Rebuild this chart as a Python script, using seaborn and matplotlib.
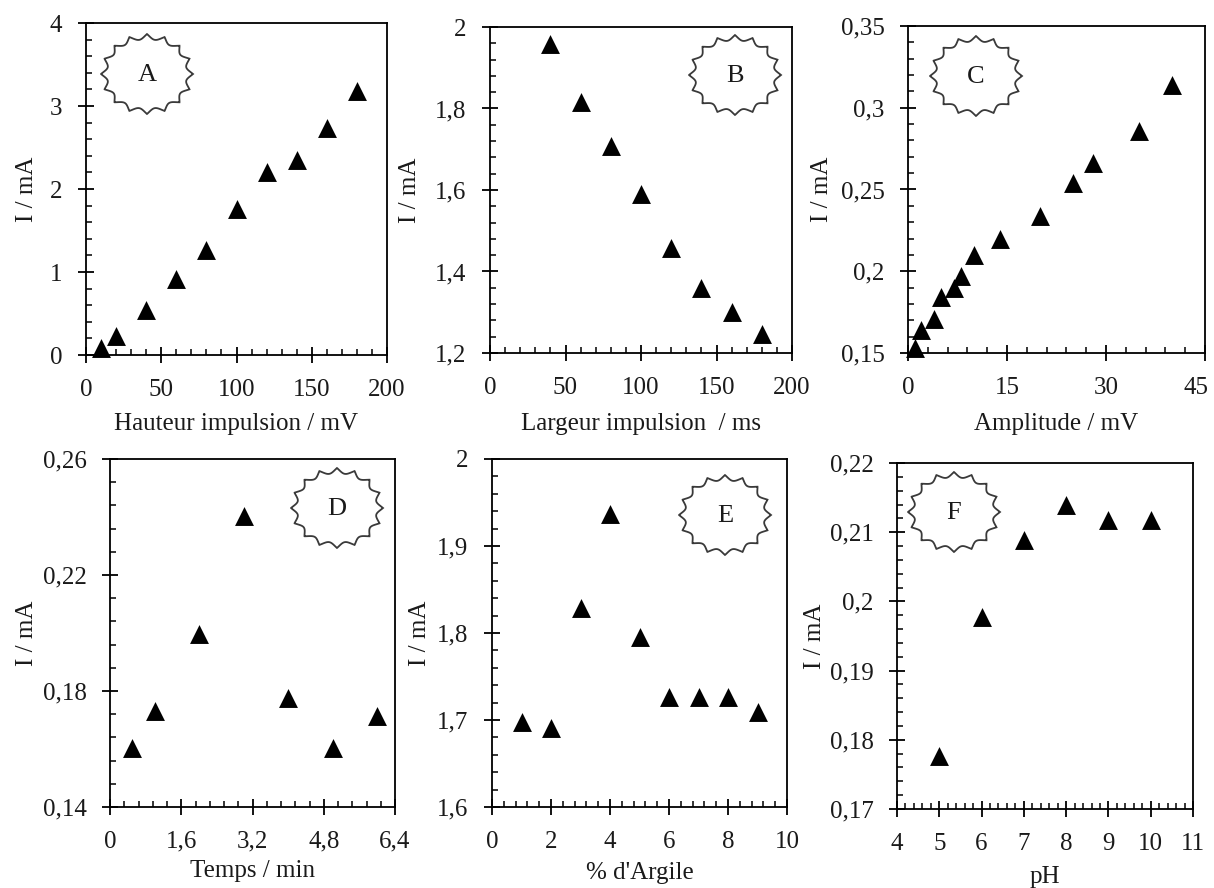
import numpy as np
import pandas as pd
import matplotlib
matplotlib.use("Agg")
import matplotlib.pyplot as plt
from matplotlib.patches import Polygon
from matplotlib.ticker import FixedLocator, FuncFormatter
from matplotlib.transforms import ScaledTranslation
import seaborn as sns

# ---------------- data ----------------
a_x = [10, 20, 40, 60, 80, 100, 120, 140, 160, 180]
a_y = [0.08, 0.23, 0.54, 0.92, 1.27, 1.76, 2.20, 2.35, 2.73, 3.18]

b_x = [40, 60, 80, 100, 120, 140, 160, 180]
b_y = [1.959, 1.816, 1.708, 1.591, 1.458, 1.360, 1.301, 1.247]

c_x = [1, 2, 4, 5, 7, 8, 10, 14, 20, 25, 28, 35, 40]
c_y = [0.153, 0.164, 0.171, 0.184, 0.190, 0.197, 0.210, 0.220, 0.234, 0.254, 0.266, 0.286, 0.314]

d_x = [0.5, 1, 2, 3, 4, 5, 6]
d_y = [0.1603, 0.173, 0.1998, 0.2404, 0.1776, 0.1603, 0.1715]

e_x = [1, 2, 3, 4, 5, 6, 7, 8, 9]
e_y = [1.698, 1.691, 1.829, 1.937, 1.795, 1.726, 1.726, 1.726, 1.709]

f_x = [5, 6, 7, 8, 9, 10]
f_y = [0.1777, 0.1977, 0.2089, 0.2139, 0.2117, 0.2117]

x_labels = ["Hauteur impulsion / mV", "Largeur impulsion  / ms", "Amplitude / mV",
            "Temps / min", "% d'Argile", "pH"]
y_label = "I / mA"
letters = ["A", "B", "C", "D", "E", "F"]

# ---------------- style ----------------
sns.set_theme(style="ticks")
plt.rcParams["font.family"] = ["Liberation Serif", "DejaVu Serif"]
FS = 18
plt.rcParams.update({
    "font.size": FS,
    "axes.edgecolor": "black",
    "axes.linewidth": 1.3,
    "xtick.color": "black",
    "ytick.color": "black",
    "xtick.labelcolor": "#1a1a1a",
    "ytick.labelcolor": "#1a1a1a",
})

W, H = 1214, 888
fig = plt.figure(figsize=(W / 100, H / 100), dpi=100)
fig.patch.set_facecolor("white")

# panel boxes in pixels: left, top, right, bottom
boxes = [(86, 23, 387, 355), (490, 27, 792, 353), (908, 26, 1205, 353),
         (110, 459, 395, 807), (492, 459, 787, 807), (897, 463, 1193, 809)]

specs = [
    dict(x=a_x, y=a_y, xlim=(0, 200), xmaj=50, xmin=10, ylim=(0, 4), ymaj=1, ymin=0.2, xdec=0, ydec=0),
    dict(x=b_x, y=b_y, xlim=(0, 200), xmaj=50, xmin=10, ylim=(1.2, 2), ymaj=0.2, ymin=0.04, xdec=0, ydec=1),
    dict(x=c_x, y=c_y, xlim=(0, 45), xmaj=15, xmin=3, ylim=(0.15, 0.35), ymaj=0.05, ymin=0.01, xdec=0, ydec=2),
    dict(x=d_x, y=d_y, xlim=(0, 6.4), xmaj=1.6, xmin=0.32, ylim=(0.14, 0.26), ymaj=0.04, ymin=0.008, xdec=1, ydec=2),
    dict(x=e_x, y=e_y, xlim=(0, 10), xmaj=2, xmin=0.4, ylim=(1.6, 2), ymaj=0.1, ymin=0.02, xdec=0, ydec=1),
    dict(x=f_x, y=f_y, xlim=(4, 11), xmaj=1, xmin=0.2, ylim=(0.17, 0.22), ymaj=0.01, ymin=0.002, xdec=0, ydec=2),
]

# label positions (pixels)
ylab_x = [27, 410, 822, 27, 420, 815]
xlab_y = [424, 424, 424, 871, 873, 877]
star_c = [(147, 74), (735, 75), (976, 76), (337, 508), (725, 515), (954, 512)]


def ticks(lo, hi, step):
    n = int(round((hi - lo) / step))
    return [round(lo + k * step, 6) for k in range(n + 1)]


def fmt(dec):
    def f(v, pos):
        s = f"{v:.{dec}f}"
        if "." in s:
            s = s.rstrip("0").rstrip(".")
        return s.replace(".", ",")
    return FuncFormatter(f)


def star(cx, cy, letter, rx=46, ry=40):
    th = np.linspace(0, 2 * np.pi, 2000)
    r = 1 - 0.13 * np.abs(np.sin(8 * th))
    px = cx + rx * r * np.cos(th)
    py = cy - ry * r * np.sin(th)
    pts = np.column_stack([px / W, 1 - py / H])
    fig.add_artist(Polygon(pts, closed=True, transform=fig.transFigure,
                           facecolor="white", edgecolor="#3a3a3a", lw=1.3, zorder=5))
    fig.text(cx / W, 1 - (cy + 1) / H, letter, ha="center", va="center",
             fontsize=FS + 1, color="#1a1a1a", zorder=6)


for i, (box, sp) in enumerate(zip(boxes, specs)):
    l, t, r, b = box
    ax = fig.add_axes([l / W, 1 - b / H, (r - l) / W, (b - t) / H])
    df = pd.DataFrame({"x": sp["x"], "y": sp["y"]})
    sns.scatterplot(data=df, x="x", y="y", ax=ax, marker="^", s=185,
                    color="black", linewidth=0, clip_on=False, zorder=4)
    ax.set_xlim(*sp["xlim"])
    ax.set_ylim(*sp["ylim"])
    ax.xaxis.set_major_locator(FixedLocator(ticks(*sp["xlim"], sp["xmaj"])))
    ax.xaxis.set_minor_locator(FixedLocator(ticks(*sp["xlim"], sp["xmin"])))
    ax.yaxis.set_major_locator(FixedLocator(ticks(*sp["ylim"], sp["ymaj"])))
    ax.yaxis.set_minor_locator(FixedLocator(ticks(*sp["ylim"], sp["ymin"])))
    ax.xaxis.set_major_formatter(fmt(sp["xdec"]))
    ax.yaxis.set_major_formatter(fmt(sp["ydec"]))
    ax.tick_params(which="major", direction="inout", length=12, width=1.3, pad=11, labelsize=FS)
    ax.tick_params(which="minor", direction="in", length=4.5, width=1.1)
    for s in ax.spines.values():
        s.set_visible(True)
        s.set_linewidth(1.3)
    ax.set_xlabel("")
    ax.set_ylabel("")
    fig.text(ylab_x[i] / W, 1 - ((t + b) / 2) / H, y_label, rotation=90,
             ha="center", va="center", fontsize=FS, color="#1a1a1a")
    fig.text(((l + r) / 2) / W, 1 - xlab_y[i] / H, x_labels[i],
             ha="center", va="center", fontsize=FS, color="#1a1a1a")
    star(*star_c[i], letters[i])
    if i == 2:
        fig.canvas.draw()
        last = ax.get_xticklabels()[-1]
        last.set_transform(last.get_transform() + ScaledTranslation(-9 / 100, 0, fig.dpi_scale_trans))

fig.savefig("out.png", dpi=100, facecolor="white")
